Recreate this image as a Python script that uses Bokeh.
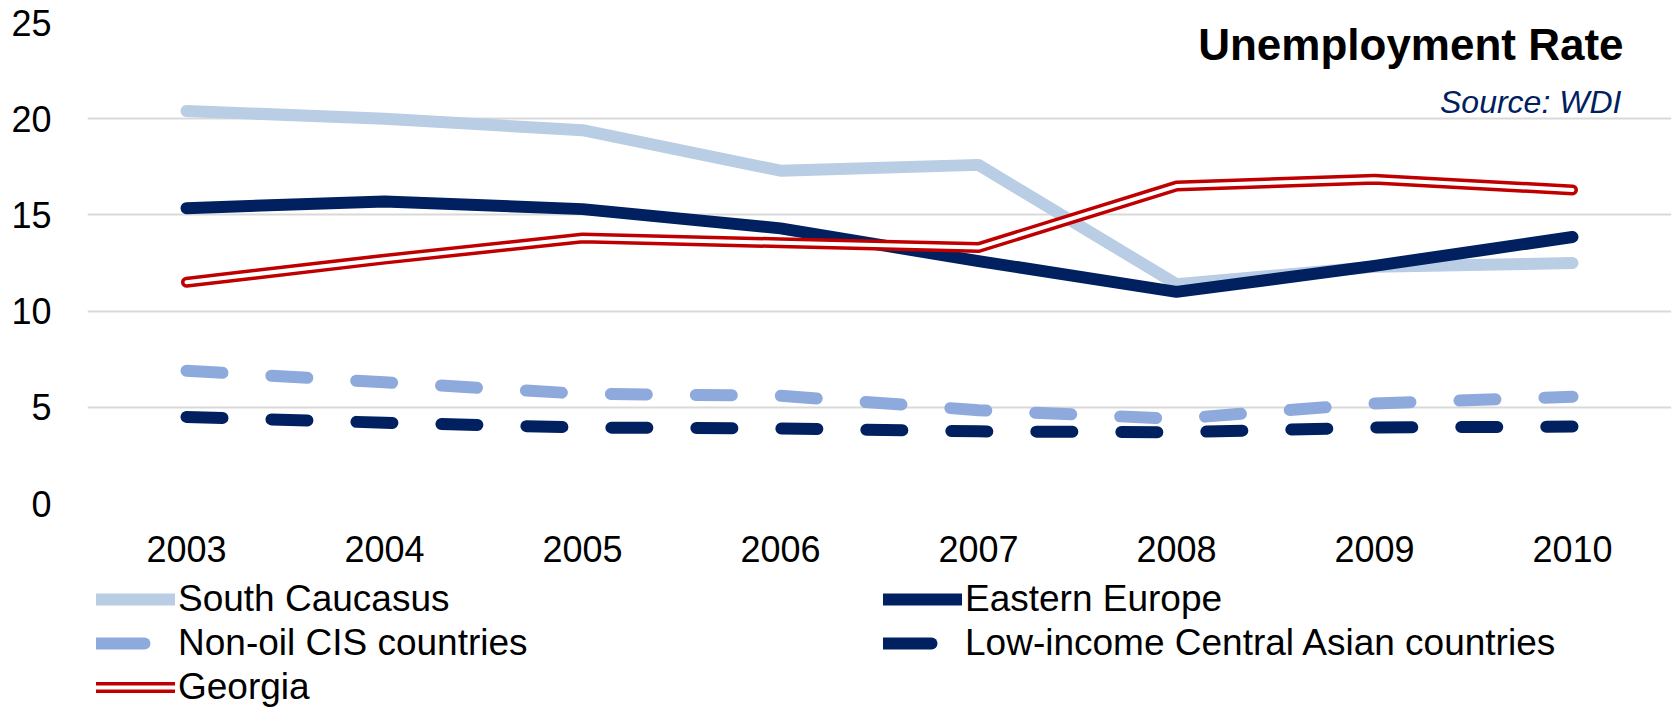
from bokeh.plotting import figure
from bokeh.layouts import column
from bokeh.models import Range1d, FixedTicker, Legend, LegendItem, Label
from bokeh.embed import file_html
from bokeh.resources import INLINE

# ---- data ----
years = [2003, 2004, 2005, 2006, 2007, 2008, 2009, 2010]
south_caucasus = [20.4, 20.0, 19.4, 17.3, 17.6, 11.4, 12.3, 12.5]
eastern_europe = [15.35, 15.7, 15.3, 14.3, 12.6, 11.0, 12.35, 13.85]
non_oil_cis = [6.9, 6.3, 5.7, 5.6, 4.85, 4.4, 5.2, 5.55]
low_income_ca = [4.5, 4.2, 3.95, 3.9, 3.75, 3.7, 3.95, 4.0]
georgia = [11.5, 12.7, 13.8, 13.55, 13.3, 16.5, 16.85, 16.3]
y_ticks = [0, 5, 10, 15, 20, 25]

series_names = ["South Caucasus", "Eastern Europe", "Non-oil CIS countries",
                "Low-income Central Asian countries", "Georgia"]
title_text = "Unemployment Rate"
source_text = "Source: WDI"

FONT = "Liberation Sans"
NAVY = "#002060"
LIGHT = "#B9CDE5"
MID = "#8EA9DB"
RED = "#C00000"

W = 1674
CHART_H = 571
LEG_H = 709 - CHART_H

# ---------------- chart ----------------
p = figure(width=W, height=CHART_H,
           x_range=Range1d(2002.5, 2010.5), y_range=Range1d(0, 25),
           output_backend="svg", toolbar_location=None,
           min_border_left=87, min_border_right=3,
           min_border_top=22, min_border_bottom=CHART_H - 503,
           background_fill_color="white", border_fill_color="white",
           outline_line_color=None)

common = dict(line_cap="round", line_join="round")
styles = {
    "sc": dict(line_color=LIGHT, line_width=12, **common),
    "ee": dict(line_color=NAVY, line_width=12, **common),
    "noc": dict(line_color=MID, line_width=12, line_dash="36 49", **common),
    "lic": dict(line_color=NAVY, line_width=12, line_dash="36 49", **common),
    "geo_o": dict(line_color=RED, line_width=11, **common),
    "geo_i": dict(line_color="white", line_width=4, **common),
}
series = {"sc": south_caucasus, "ee": eastern_europe, "noc": non_oil_cis,
          "lic": low_income_ca, "geo_o": georgia, "geo_i": georgia}

for key in ["sc", "ee", "noc", "lic", "geo_o", "geo_i"]:
    p.line(years, series[key], **styles[key])

for ax in (p.xaxis, p.yaxis):
    ax.axis_line_color = None
    ax.major_tick_line_color = None
    ax.minor_tick_line_color = None
    ax.major_label_text_font = FONT
    ax.major_label_text_font_size = "36px"
    ax.major_label_text_color = "black"
p.xaxis.ticker = FixedTicker(ticks=years)
p.yaxis.ticker = FixedTicker(ticks=y_ticks)
p.xaxis.major_label_standoff = 26
p.yaxis.major_label_standoff = 30
p.xgrid.grid_line_color = None
p.ygrid.grid_line_color = "#D9D9D9"
p.ygrid.grid_line_width = 2

p.add_layout(Label(x=2010.258, y=23.87, text=title_text, text_align="right",
                   text_baseline="middle", text_font=FONT, text_font_style="bold",
                   text_font_size="44px", text_color="black"))
p.add_layout(Label(x=2010.247, y=20.87, text=source_text, text_align="right",
                   text_baseline="middle", text_font=FONT, text_font_style="italic",
                   text_font_size="32px", text_color=NAVY))

# ---------------- legend strip (pixel coordinates) ----------------
lg = figure(width=W, height=LEG_H, x_range=Range1d(0, W), y_range=Range1d(0, LEG_H),
            output_backend="svg", toolbar_location=None, min_border=0,
            x_axis_location=None, y_axis_location=None,
            background_fill_color="white", border_fill_color="white",
            outline_line_color=None)
lg.grid.visible = False

# legend proxies: same series, lying outside this strip's pixel range
legend_styles = dict(styles)
legend_styles["noc"] = dict(styles["noc"], line_dash="48 200")
legend_styles["lic"] = dict(styles["lic"], line_dash="48 200")
proxies = {key: lg.line(years, series[key], **legend_styles[key]) for key in legend_styles}

leg_style = dict(glyph_width=79, glyph_height=40, label_height=40,
                 label_standoff=3, spacing=2, padding=0, margin=0,
                 border_line_color=None, background_fill_alpha=0,
                 label_text_font=FONT, label_text_font_size="37px",
                 label_text_color="black", label_text_baseline="middle")

leg1 = Legend(items=[LegendItem(label=series_names[0], renderers=[proxies["sc"]]),
                     LegendItem(label=series_names[2], renderers=[proxies["noc"]]),
                     LegendItem(label=series_names[4],
                                renderers=[proxies["geo_o"], proxies["geo_i"]])],
              location=(9, 1), **leg_style)
leg2 = Legend(items=[LegendItem(label=series_names[1], renderers=[proxies["ee"]]),
                     LegendItem(label=series_names[3], renderers=[proxies["lic"]])],
              location=(796, 45.5), **leg_style)
lg.add_layout(leg1, "center")
lg.add_layout(leg2, "center")

layout = column(p, lg, spacing=0)
open("out.html", "w").write(file_html(layout, INLINE))
